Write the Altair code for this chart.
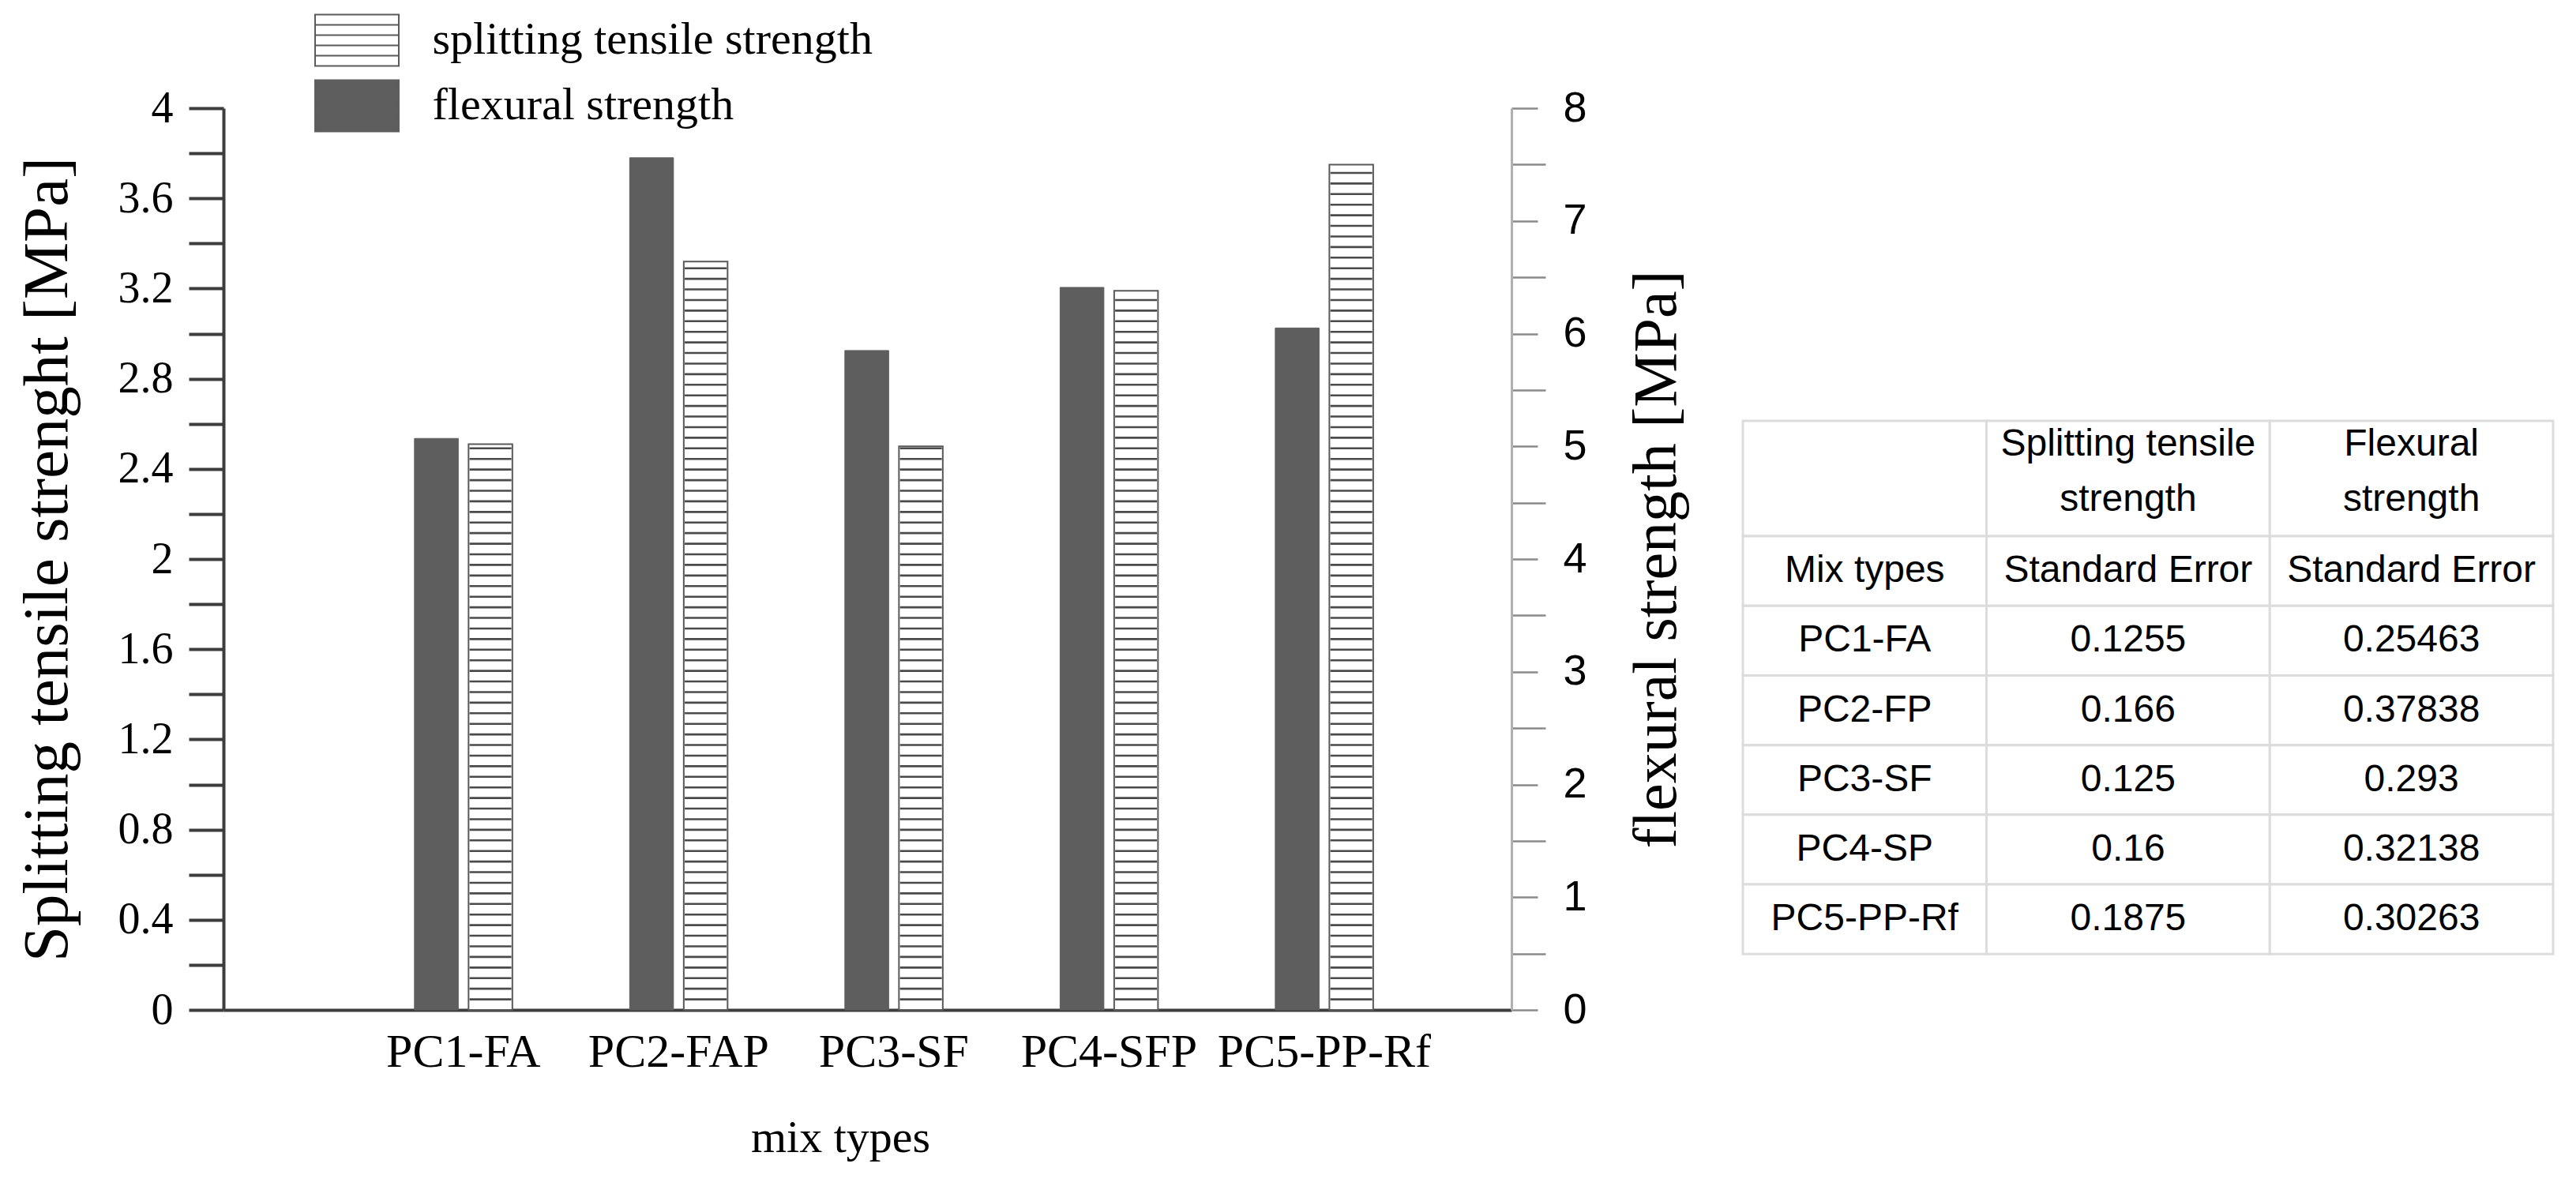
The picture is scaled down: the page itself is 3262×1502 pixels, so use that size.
import altair as alt
import pandas as pd

# ---------------- data ----------------
mixes = ["PC1-FA", "PC2-FAP", "PC3-SF", "PC4-SFP", "PC5-PP-Rf"]
splitting = [2.51, 3.32, 2.50, 3.19, 3.75]
flexural = [5.07, 7.56, 5.85, 6.41, 6.05]
series_names = ["splitting tensile strength", "flexural strength"]

left_ticks = [0, 0.2, 0.4, 0.6, 0.8, 1.0, 1.2, 1.4, 1.6, 1.8, 2.0, 2.2, 2.4,
              2.6, 2.8, 3.0, 3.2, 3.4, 3.6, 3.8, 4.0]
right_ticks = [0, 0.5, 1, 1.5, 2, 2.5, 3, 3.5, 4, 4.5, 5, 5.5, 6, 6.5, 7, 7.5, 8]

table_head = ["", "Splitting tensile\nstrength", "Flexural\nstrength"]
table_sub = ["Mix types", "Standard Error", "Standard Error"]
table_mix = ["PC1-FA", "PC2-FP", "PC3-SF", "PC4-SP", "PC5-PP-Rf"]
se_split = ["0.1255", "0.166", "0.125", "0.16", "0.1875"]
se_flex = ["0.25463", "0.37838", "0.293", "0.32138", "0.30263"]

# ---------------- layout constants ----------------
W, H = 1631, 1142
SERIF = "Liberation Serif"
SANS = "Liberation Sans"
STRIPE_STEP = 0.047

df_split = pd.DataFrame({"mix": mixes, "value": splitting, "series": series_names[0]})
df_flex = pd.DataFrame({"mix": mixes, "value": flexural, "series": series_names[1]})

x_axis = alt.Axis(
    orient="bottom", labelAngle=0, ticks=False, labelLimit=1000,
    domainColor="#3d3d3d", domainWidth=4,
    labelFont=SERIF, labelFontSize=60, labelColor="black", labelPadding=24,
    title="mix types", titleFont=SERIF, titleFontSize=58, titleFontWeight="normal",
    titleColor="black", titlePadding=50, titleX=781, titleAnchor="start", titleAlign="center",
)
x_enc = alt.X("mix:N", sort=mixes,
              scale=alt.Scale(paddingInner=0.545, paddingOuter=0.765, align=0.58),
              axis=x_axis)
xo_enc = alt.XOffset("series:N", sort=[series_names[1], series_names[0]],
                     scale=alt.Scale(domain=[series_names[1], series_names[0]],
                                     paddingInner=0.19, paddingOuter=0))

sym_path = ("M-1.63,-1H1.63V1H-1.63Z M-1.63,-0.6H1.63 M-1.63,-0.2H1.63 "
            "M-1.63,0.2H1.63 M-1.63,0.6H1.63")
legend = alt.Legend(
    title=None, orient="none", legendX=135.5, legendY=-119.5,
    symbolType=sym_path, symbolSize=4225, symbolStrokeWidth=2,
    labelFont=SERIF, labelFontSize=58, labelColor="black", labelOffset=62,
    rowPadding=10, padding=0, labelLimit=2000,
)
fill_enc = alt.Fill("series:N", scale=alt.Scale(domain=series_names, range=["white", "#5e5e5e"]),
                    legend=legend)
stroke_enc = alt.Stroke("series:N", scale=alt.Scale(domain=series_names, range=["#5a5a5a", "#5e5e5e"]),
                        legend=legend)

left_axis = alt.Axis(
    orient="left", values=left_ticks,
    labelExpr="round(datum.value*10) % 4 == 0 ? format(datum.value, '~g') : ''",
    labelFont=SERIF, labelFontSize=56, labelColor="black", labelPadding=20,
    labelOverlap=False, labelBound=False, labelFlush=False,
    tickSize=44, tickWidth=4, tickColor="#3d3d3d",
    domainColor="#3d3d3d", domainWidth=4, grid=False,
    title="Splitting tensile strenght [MPa]", titleFont=SERIF, titleFontSize=81,
    titleFontWeight="normal", titleColor="black", titlePadding=48,
)
right_axis = alt.Axis(
    orient="right", values=right_ticks,
    labelExpr="datum.value % 1 == 0 ? format(datum.value, 'd') : ''",
    labelFont=SANS, labelFontSize=54, labelColor="black", labelPadding=32,
    labelOverlap=False, labelBound=False, labelFlush=False,
    tickSize={"condition": {"test": "datum.value % 1 == 0", "value": 33}, "value": 43},
    tickWidth=2.5, tickColor="#8a8a8a",
    domainColor="#b0b0b0", domainWidth=3, grid=False,
    title="flexural strength [MPa]", titleFont=SERIF, titleFontSize=78,
    titleFontWeight="normal", titleColor="black", titlePadding=128, titleAngle=270,
)

y_left_scale = alt.Scale(domain=[0, 4], nice=False, zero=True)
y_right_scale = alt.Scale(domain=[0, 8], nice=False, zero=True)

split_bars = alt.Chart(df_split).mark_bar(strokeWidth=2).encode(
    x=x_enc, xOffset=xo_enc,
    y=alt.Y("value:Q", scale=y_left_scale, axis=left_axis),
    fill=fill_enc, stroke=stroke_enc,
)
stripes = alt.Chart(df_split).transform_calculate(
    level=f"sequence({STRIPE_STEP}, datum.value, {STRIPE_STEP})"
).transform_flatten(["level"]).mark_tick(
    orient="horizontal", size=53, thickness=2.6, color="#4a4a4a", opacity=1
).encode(
    x=x_enc, xOffset=xo_enc,
    y=alt.Y("level:Q", scale=y_left_scale, axis=left_axis),
)
flex_bars = alt.Chart(df_flex).mark_bar(strokeWidth=1).encode(
    x=x_enc, xOffset=xo_enc,
    y=alt.Y("value:Q", scale=y_right_scale, axis=right_axis),
    fill=fill_enc, stroke=stroke_enc,
)

main = alt.layer(alt.layer(split_bars, stripes), flex_bars).resolve_scale(
    y="independent"
).properties(width=W, height=H)

# ---------------- table ----------------
col_w = [0.86, 1.0, 1.0]
row_h = [1.657, 1, 1, 1, 1, 1, 1]
rows = [table_head, table_sub] + [[m, a, b] for m, a, b in zip(table_mix, se_split, se_flex)]
cells = []
y0 = 0.0
for r, row in enumerate(rows):
    x0 = 0.0
    for c, txt in enumerate(row):
        cells.append({"x0": x0, "x1": x0 + col_w[c], "y0": y0, "y1": y0 + row_h[r],
                      "xc": x0 + col_w[c] / 2, "yc": y0 + row_h[r] / 2, "text": txt,
                      "head": r == 0})
        x0 += col_w[c]
    y0 += row_h[r]
df_table = pd.DataFrame(cells)

tx = alt.Scale(domain=[0, sum(col_w)], nice=False, zero=False)
ty = alt.Scale(domain=[-4.49, 8.46], nice=False, zero=False, reverse=True)
t_rect = alt.Chart(df_table).mark_rect(fill="white", stroke="#dcdcdc", strokeWidth=3).encode(
    x=alt.X("x0:Q", scale=tx, axis=None), x2="x1:Q",
    y=alt.Y("y0:Q", scale=ty, axis=None), y2="y1:Q",
)
t_text = alt.Chart(df_table).transform_filter("!datum.head").mark_text(
    font=SANS, fontSize=48, align="center", baseline="middle", color="black"
).encode(
    x=alt.X("xc:Q", scale=tx, axis=None),
    y=alt.Y("yc:Q", scale=ty, axis=None),
    text="text:N",
)
t_head = alt.Chart(df_table).transform_filter("datum.head").mark_text(
    font=SANS, fontSize=48, lineBreak="\n", lineHeight=70, align="center",
    baseline="middle", color="black", dy=-43
).encode(
    x=alt.X("xc:Q", scale=tx, axis=None),
    y=alt.Y("yc:Q", scale=ty, axis=None),
    text="text:N",
)
table = alt.layer(t_rect, t_text, t_head).properties(width=1026, height=H)

chart = alt.hconcat(main, table, spacing=67).properties(
    padding={"left": 18, "top": 17, "right": 20, "bottom": 20},
    background="white",
).configure_view(stroke=None)

chart.save("out.html", embed_options={"renderer": "svg", "actions": False})
